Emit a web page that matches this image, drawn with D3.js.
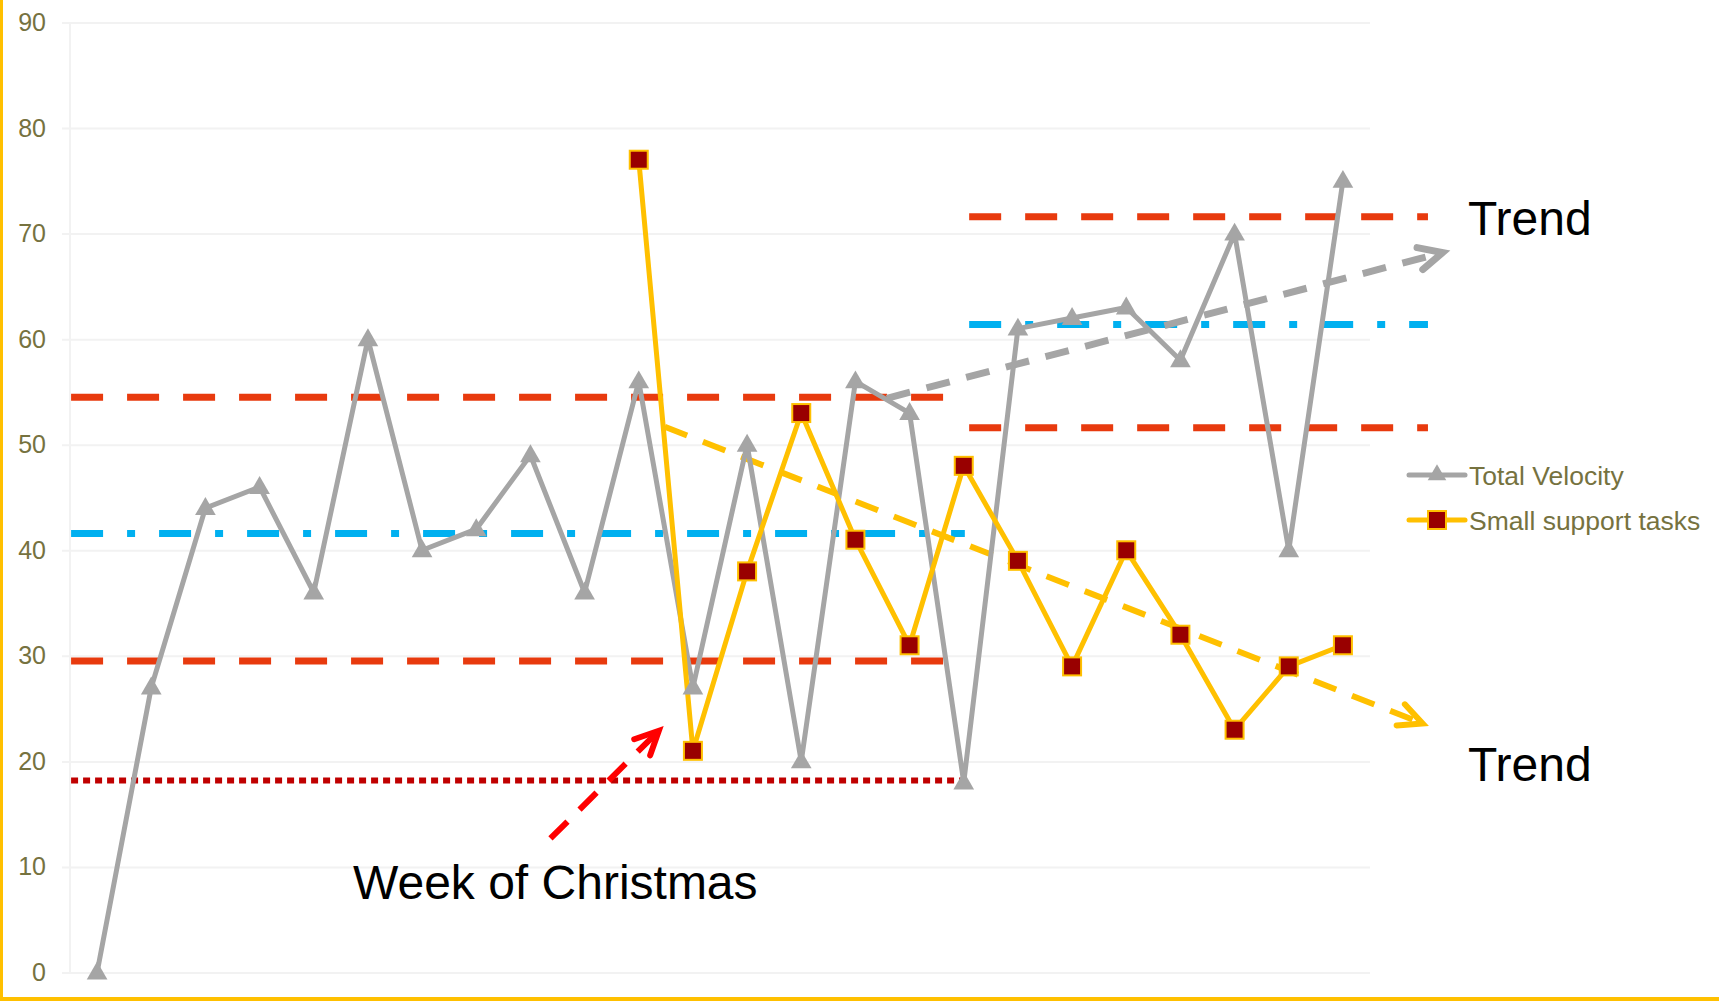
<!DOCTYPE html>
<html>
<head>
<meta charset="utf-8">
<script src="https://cdn.jsdelivr.net/npm/d3@7"></script>
<style>
  body { margin: 0; background: #fff; }
  svg { display: block; font-family: "Liberation Sans", Arial, sans-serif; }
</style>
</head>
<body>
<svg width="1719" height="1001"></svg>
<script>
// weeks on the x axis (not labelled in the chart)
const weeks = ["W1","W2","W3","W4","W5","W6","W7","W8","W9","W10","W11","W12",
               "W13","W14","W15","W16","W17","W18","W19","W20","W21","W22","W23","W24"];
const totalVelocity = [0,27,44,46,36,60,40,42,49,36,56,27,50,20,56,53,18,61,62,63,58,70,40,75];
const supportTasks = [null,null,null,null,null,null,null,null,null,null,
                      77,21,38,53,41,31,48,39,29,40,32,23,29,31];
const yTicks = [0,10,20,30,40,50,60,70,80,90];

// control limits (upper, mean, lower) before and after the change, plus the minimum line
const beforeLimits = [54.5, 41.6, 29.5];
const beforeMin = 18.2;
const afterLimits = [71.6, 61.4, 51.6];
const beforeSpan = [-0.48, 16.02];   // in week-index units
const afterSpan = [16.1, 24.57];

// trend arrows [week index, value]
const velocityTrend = [[14.58, 54.4], [24.84, 68.2]];
const supportTrend = [[10.48, 51.7], [24.47, 23.6]];
const christmasArrow = [[8.37, 12.7], [10.37, 22.9]];

const seriesNames = ["Total Velocity", "Small support tasks"];

const svg = d3.select("svg");
const margin = {top: 22.5, left: 70, right: 349, bottom: 28.5};
const width = 1719, height = 1001;

svg.append("rect").attr("width", width).attr("height", height).attr("fill", "#fff");

const x = d3.scaleLinear()
  .domain([-0.5, weeks.length - 0.5])
  .range([margin.left, width - margin.right]);
const y = d3.scaleLinear()
  .domain([0, 90])
  .range([height - margin.bottom, margin.top]);

// gridlines + tick labels
const yAxis = svg.append("g")
  .attr("transform", `translate(${margin.left},0)`)
  .call(d3.axisLeft(y).tickValues(yTicks).tickSize(-(width - margin.right - margin.left)).tickPadding(24));
yAxis.select(".domain").remove();
yAxis.selectAll(".tick line").attr("x1", -8).attr("stroke", "#F2F2F2").attr("stroke-width", 2);
yAxis.selectAll(".tick text")
  .attr("font-size", 25).attr("fill", "#76723F")
  .attr("font-family", "'Liberation Sans', Arial, sans-serif");

svg.append("line")
  .attr("x1", margin.left).attr("x2", margin.left)
  .attr("y1", y(90)).attr("y2", y(0))
  .attr("stroke", "#F2F2F2").attr("stroke-width", 2);

// control limit lines
const limitStyle = [
  {color: "#E83A0E", dash: "32,24"},
  {color: "#00B0F0", dash: "32,24,8,24"},
  {color: "#E83A0E", dash: "32,24"}
];
function limitLine(v, span, st) {
  svg.append("line")
    .attr("x1", x(span[0])).attr("x2", x(span[1]))
    .attr("y1", y(v)).attr("y2", y(v))
    .attr("stroke", st.color).attr("stroke-width", 7)
    .attr("stroke-dasharray", st.dash);
}
beforeLimits.forEach((v, i) => limitLine(v, beforeSpan, limitStyle[i]));
afterLimits.forEach((v, i) => limitLine(v, afterSpan, limitStyle[i]));
svg.append("line")
  .attr("x1", x(beforeSpan[0])).attr("x2", x(beforeSpan[1]))
  .attr("y1", y(beforeMin)).attr("y2", y(beforeMin))
  .attr("stroke", "#C00000").attr("stroke-width", 6)
  .attr("stroke-dasharray", "7,5");

// dashed arrows
function arrow(pts, color, width) {
  const [p0, p1] = pts.map(p => [x(p[0]), y(p[1])]);
  svg.append("line")
    .attr("x1", p0[0]).attr("y1", p0[1]).attr("x2", p1[0]).attr("y2", p1[1])
    .attr("stroke", color).attr("stroke-width", width)
    .attr("stroke-dasharray", "24,17");
  const a = Math.atan2(p1[1] - p0[1], p1[0] - p0[0]);
  const len = 26, spread = 0.45;
  const l = [p1[0] - len * Math.cos(a - spread), p1[1] - len * Math.sin(a - spread)];
  const r = [p1[0] - len * Math.cos(a + spread), p1[1] - len * Math.sin(a + spread)];
  svg.append("path")
    .attr("d", `M${l[0]},${l[1]}L${p1[0]},${p1[1]}L${r[0]},${r[1]}`)
    .attr("fill", "none").attr("stroke", color).attr("stroke-width", width)
    .attr("stroke-linecap", "round").attr("stroke-linejoin", "miter");
}
arrow(velocityTrend, "#A5A5A5", 7);
arrow(supportTrend, "#FFC000", 6);
arrow(christmasArrow, "#FF0000", 6);

// series lines
const line = d3.line()
  .defined(d => d != null)
  .x((d, i) => x(i))
  .y(d => y(d));

svg.append("path")
  .datum(totalVelocity)
  .attr("d", line)
  .attr("fill", "none").attr("stroke", "#A5A5A5").attr("stroke-width", 5)
  .attr("stroke-linejoin", "round").attr("stroke-linecap", "round");

svg.append("path")
  .datum(supportTasks)
  .attr("d", line)
  .attr("fill", "none").attr("stroke", "#FFC000").attr("stroke-width", 5)
  .attr("stroke-linejoin", "round").attr("stroke-linecap", "round");

const tri = d3.symbol().type(d3.symbolTriangle).size(185);
svg.selectAll(".tv")
  .data(totalVelocity)
  .join("path")
  .attr("class", "tv")
  .attr("d", tri)
  .attr("transform", (d, i) => `translate(${x(i)},${y(d) + 1})`)
  .attr("fill", "#A5A5A5");

svg.selectAll(".st")
  .data(supportTasks.map((v, i) => ({v, i})).filter(d => d.v != null))
  .join("rect")
  .attr("class", "st")
  .attr("x", d => x(d.i) - 9).attr("y", d => y(d.v) - 9)
  .attr("width", 18).attr("height", 18)
  .attr("fill", "#990000").attr("stroke", "#FFC000").attr("stroke-width", 2);

// annotations
svg.append("text").attr("x", 1468).attr("y", 235)
  .attr("font-size", 48).attr("fill", "#000").text("Trend");
svg.append("text").attr("x", 1468).attr("y", 781)
  .attr("font-size", 48).attr("fill", "#000").text("Trend");
svg.append("text").attr("x", 353).attr("y", 899)
  .attr("font-size", 48).attr("fill", "#000").text("Week of Christmas");

// legend
const legend = svg.append("g").attr("transform", "translate(1409,475)");
const lg = legend.selectAll("g").data(seriesNames).join("g")
  .attr("transform", (d, i) => `translate(0,${i * 45})`);
lg.append("line").attr("x1", 0).attr("x2", 56)
  .attr("stroke", (d, i) => i ? "#FFC000" : "#A5A5A5")
  .attr("stroke-width", 5).attr("stroke-linecap", "round");
lg.filter((d, i) => i === 0).append("path")
  .attr("d", d3.symbol().type(d3.symbolTriangle).size(150))
  .attr("transform", "translate(28,0)").attr("fill", "#A5A5A5");
lg.filter((d, i) => i === 1).append("rect")
  .attr("x", 19).attr("y", -9).attr("width", 18).attr("height", 18)
  .attr("fill", "#990000").attr("stroke", "#FFC000").attr("stroke-width", 2);
lg.append("text").attr("x", 60).attr("y", 10)
  .attr("font-size", 26.5).attr("fill", "#76723F").text(d => d);

// yellow frame on left and bottom
svg.append("rect").attr("x", 0).attr("y", 0).attr("width", 3).attr("height", height).attr("fill", "#FFC000");
svg.append("rect").attr("x", 0).attr("y", height - 4).attr("width", width).attr("height", 4).attr("fill", "#FFC000");
</script>
</body>
</html>
